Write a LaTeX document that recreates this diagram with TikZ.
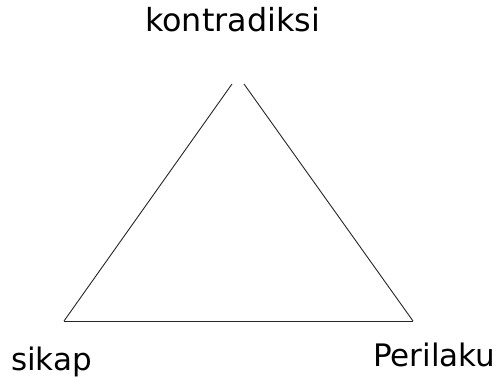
\documentclass[tikz,border=0pt]{standalone}
\usepackage{fontspec}
\setmainfont{DejaVu Sans}
\usetikzlibrary{positioning}

\begin{document}
\begin{tikzpicture}[
x=1pt, y=-1pt,
sudut/.style={font=\fontsize{31}{36}\selectfont, inner sep=0pt, anchor=base west},
sisi/.style={line width=0.9pt, black!85}
]
\useasboundingbox (0,0) rectangle (499,377);

\coordinate (kiri) at (64,321);
\coordinate (kanan) at (413,321);
\coordinate (puncakkiri) at (232,84);
\coordinate (puncakkanan) at (244,84);

\node[sudut, font=\fontsize{31.8}{36}\selectfont] (kontradiksi) at (145,32) {kontradiksi};
\node[sudut] (sikap) at (11,371) {sikap};
\node[sudut] (perilaku) at (373,367) {Perilaku};

\draw[sisi] (kiri) -- (puncakkiri);
\draw[sisi] (puncakkanan) -- (kanan);
\draw[sisi] (kiri) -- (kanan);
\end{tikzpicture}
\end{document}
